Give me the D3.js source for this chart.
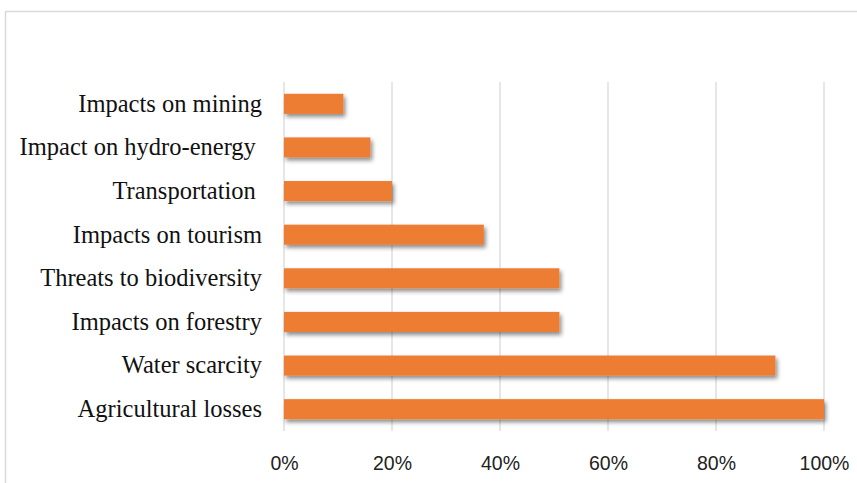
<!DOCTYPE html>
<html><head><meta charset="utf-8">
<script src="https://cdn.jsdelivr.net/npm/d3@7"></script>
<style>html,body{margin:0;padding:0;background:#fff;}svg{display:block;}</style>
</head><body>
<svg id="c" width="857" height="483"></svg>
<script>
const categories = ["Impacts on mining","Impact on hydro-energy ","Transportation ","Impacts on tourism","Threats to biodiversity","Impacts on forestry","Water scarcity","Agricultural losses"];
const values = [0.11,0.16,0.20,0.37,0.51,0.51,0.91,1.00];
const ticks = [0,0.2,0.4,0.6,0.8,1.0];

const svg = d3.select("#c");
const defs = svg.append("defs");
const f = defs.append("filter").attr("id","sh").attr("x","-5%").attr("y","-50%").attr("width","120%").attr("height","250%");
f.append("feDropShadow").attr("dx",2).attr("dy",3).attr("stdDeviation",2).attr("flood-color","#000").attr("flood-opacity",0.45);

// outer frame
svg.append("path").attr("d","M5.5,483 V11.5 H857").attr("fill","none").attr("stroke","#d9d9d9").attr("stroke-width",1.5);

const x = d3.scaleLinear().domain([0,1]).range([284,824]);
const y = d3.scaleBand().domain(categories).range([82,431]).paddingInner(0.54).paddingOuter(0.27);

svg.append("g").selectAll("line").data(ticks).join("line")
  .attr("x1",d=>x(d)).attr("x2",d=>x(d)).attr("y1",82).attr("y2",431)
  .attr("stroke","#d9d9d9").attr("stroke-width",1.3);

svg.append("g").selectAll("rect").data(values).join("rect")
  .attr("x",x(0)).attr("y",(d,i)=>y(categories[i]))
  .attr("width",d=>x(d)-x(0)).attr("height",y.bandwidth())
  .attr("fill","#ed7d31").attr("filter","url(#sh)");

const xa = d3.axisBottom(x).tickValues(ticks).tickFormat(d3.format(".0%")).tickSize(0).tickPadding(0);
const gx = svg.append("g").attr("transform","translate(0,456)").call(xa);
gx.select(".domain").remove();
gx.selectAll("text").style("font-family","'Liberation Sans', Arial, sans-serif").style("font-size","19.5px").attr("fill","#222").attr("dy","0.71em");

const ya = d3.axisLeft(y).tickSize(0).tickPadding(22);
const gy = svg.append("g").attr("transform","translate(284,0)").call(ya);
gy.select(".domain").remove();
gy.selectAll("text").style("font-family","'Liberation Serif', 'Times New Roman', serif").style("font-size","24.5px").attr("fill","#111").style("white-space","pre").attr("xml:space","preserve");
</script>
</body></html>
